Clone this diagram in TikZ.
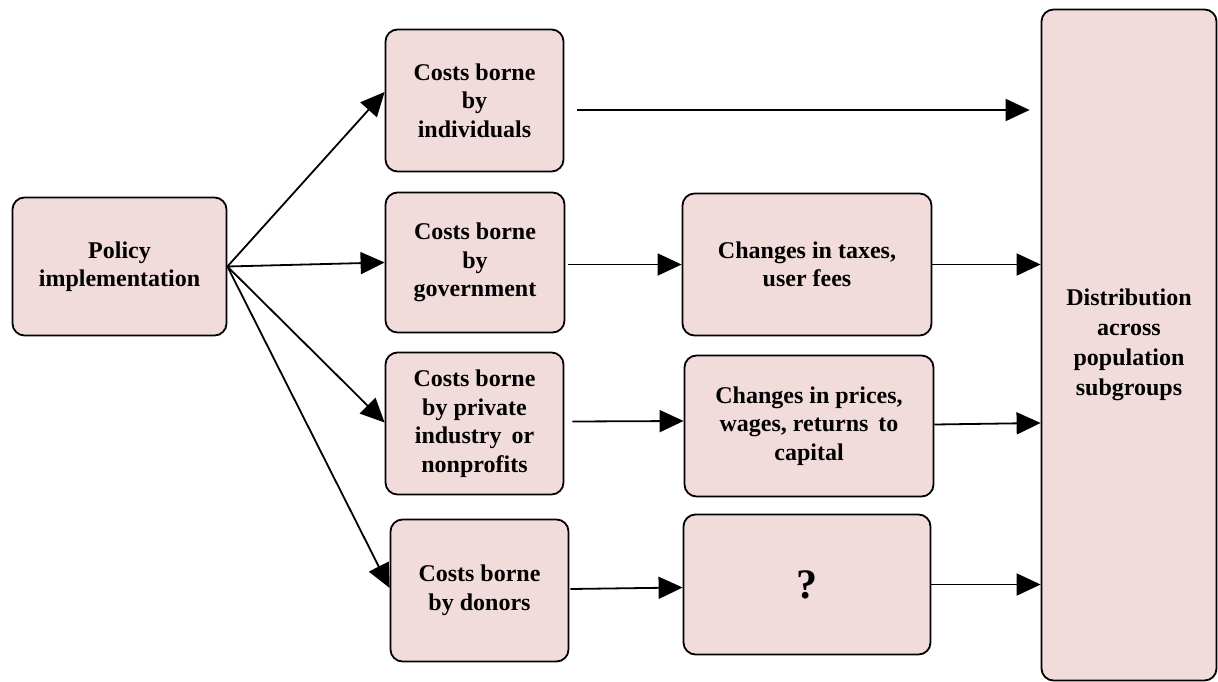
\documentclass[tikz,border=0pt]{standalone}
\usepackage{fontspec}
\setmainfont{Liberation Serif}
\usetikzlibrary{arrows.meta}
\usetikzlibrary{positioning}
\definecolor{boxpink}{HTML}{F2DCDB}

\begin{document}
\begin{tikzpicture}[x=1pt, y=-1pt,
    box/.style={draw=black, line width=1.8pt, fill=boxpink, rounded corners=12pt,
        align=center, font=\fontsize{24}{28.5}\selectfont\bfseries, inner sep=0pt},
    arr/.style={line width=1.8pt, -{Triangle[length=24pt, width=22pt]}}]
    \useasboundingbox (0,0) rectangle (1218,682);
    % left column
    \node[box, minimum width=214pt, minimum height=138pt] (policy) at (119.5,266.5) {Policy\\implementation};
    % cost boxes
    \node[box, minimum width=178pt, minimum height=142pt] (indiv) at (474.5,100.5) {Costs borne\\by\\individuals};
    \node[box, minimum width=179pt, minimum height=140pt] (gov) at (475,262.5) {Costs borne\\by\\government};
    \node[box, minimum width=178pt, minimum height=142pt] (priv) at (474.5,423.5) {Costs borne\\by private\\industry\, or\\nonprofits};
    \node[box, minimum width=178pt, minimum height=142pt] (donor) at (479.5,590.5) {Costs borne\\by donors};
    % changes
    \node[box, minimum width=249pt, minimum height=142pt] (taxes) at (807,264.5) {Changes in taxes,\\user fees};
    \node[box, minimum width=249pt, minimum height=141pt] (prices) at (809,426) {Changes in prices,\\wages, returns\, to\\capital};
    \node[box, minimum width=247pt, minimum height=140pt, font=\fontsize{42}{46}\selectfont\bfseries] (unknown) at (807,584.5) {?};
    % right column
    \node[box, minimum width=175pt, minimum height=671pt, font=\fontsize{24}{30}\selectfont\bfseries] (dist) at (1129,345) {Distribution\\across\\population\\subgroups};
    % fan out
    \draw[arr] (policy.east) -- ([yshift=8.5pt]indiv.west);
    \draw[arr] (policy.east) -- (gov.west);
    \draw[arr] (policy.east) -- ([yshift=1pt]priv.west);
    \draw[arr] (policy.east) -- ([yshift=2.5pt]donor.west);
    % to the right
    \draw[arr, shorten >=11pt] ([xshift=13pt, yshift=-9.5pt]indiv.east) -- ([yshift=-9.5pt]indiv.east -| dist.west);
    \draw[arr] ([xshift=3pt, yshift=-2pt]gov.east) -- (taxes.west);
    \draw[arr] ([xshift=8pt, yshift=2pt]priv.east) -- ([yshift=5pt]prices.west);
    \draw[arr] ([xshift=1pt, yshift=1.5pt]donor.east) -- ([yshift=-3pt]unknown.west);
    \draw[arr] (taxes.east) -- (taxes.east -| dist.west);
    \draw[arr] ([yshift=1.5pt]prices.east) -- ([yshift=3pt]prices.east -| dist.west);
    \draw[arr] (unknown.east) -- (unknown.east -| dist.west);
\end{tikzpicture}
\end{document}
